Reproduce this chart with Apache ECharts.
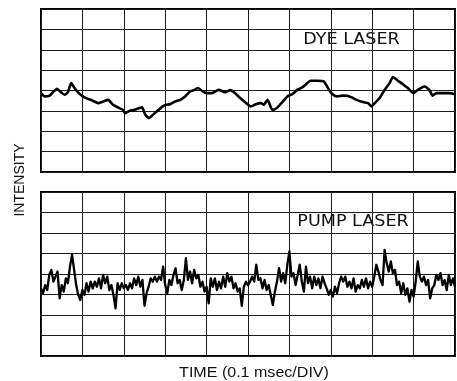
<!DOCTYPE html>
<html>
<head>
<meta charset="utf-8">
<script src="https://cdn.jsdelivr.net/npm/echarts@6/dist/echarts.min.js"></script>
<style>
  html, body { margin: 0; padding: 0; background: #fff; }
  #app { width: 457px; height: 381px; }
</style>
</head>
<body>
<div id="app"></div>
<script>
// time in divisions (0.1 msec/DIV), intensity in divisions
const dyeLaser = [
  [0, 3.87], [0.09, 3.71], [0.21, 3.75], [0.29, 3.92], [0.39, 4.08], [0.48, 3.92],
  [0.57, 3.79], [0.65, 3.92], [0.73, 4.36], [0.81, 4.12], [0.89, 3.92], [1.01, 3.71],
  [1.13, 3.59], [1.25, 3.5], [1.38, 3.38], [1.5, 3.46], [1.62, 3.54], [1.74, 3.3],
  [1.86, 3.17], [1.98, 3.05], [2.03, 2.89], [2.14, 3.0], [2.26, 3.05], [2.38, 3.14],
  [2.44, 3.17], [2.52, 2.81], [2.61, 2.65], [2.72, 2.84], [2.84, 3.05], [2.94, 3.22],
  [3.02, 3.3], [3.12, 3.33], [3.24, 3.46], [3.36, 3.54], [3.48, 3.71], [3.6, 3.95],
  [3.71, 4.03], [3.79, 4.12], [3.88, 4.0], [4.0, 3.87], [4.13, 3.87], [4.29, 4.03],
  [4.45, 3.92], [4.57, 4.02], [4.69, 3.87], [4.81, 3.63], [4.93, 3.43], [5.07, 3.22],
  [5.19, 3.33], [5.31, 3.38], [5.38, 3.3], [5.47, 3.54], [5.59, 3.05], [5.71, 3.17],
  [5.83, 3.43], [5.95, 3.71], [6.07, 3.82], [6.19, 4.03], [6.31, 4.15], [6.43, 4.36],
  [6.51, 4.48], [6.68, 4.48], [6.83, 4.44], [6.96, 4.03], [7.04, 3.82], [7.16, 3.71],
  [7.28, 3.75], [7.4, 3.74], [7.5, 3.66], [7.62, 3.54], [7.78, 3.43], [7.9, 3.38],
  [7.98, 3.22], [8.06, 3.38], [8.18, 3.63], [8.3, 4.03], [8.42, 4.36], [8.5, 4.66],
  [8.62, 4.48], [8.74, 4.31], [8.86, 4.12], [9.0, 3.87], [9.1, 4.03], [9.26, 4.2],
  [9.38, 4.03], [9.46, 3.75], [9.55, 3.87], [9.71, 3.87], [9.87, 3.87], [10, 3.82]
];

// pump laser sampled every 0.05 DIV
const pumpStep = 0.05;
const pumpLaser = [
  3.30, 3.06, 3.46, 3.22, 3.96, 4.20, 3.63, 3.87, 4.12, 2.81,
  3.46, 3.14, 3.79, 3.55, 4.36, 4.94, 4.20, 3.46, 2.98, 2.73,
  3.22, 2.98, 3.55, 3.14, 3.63, 3.30, 3.63, 3.38, 3.79, 3.30,
  3.96, 3.55, 3.87, 3.22, 3.46, 2.98, 2.32, 3.55, 3.22, 3.55,
  3.30, 3.46, 3.22, 3.55, 3.30, 3.79, 3.46, 3.87, 3.38, 3.71,
  2.45, 3.06, 3.38, 3.79, 3.63, 3.87, 3.63, 3.87, 3.71, 4.36,
  3.46, 3.06, 3.71, 3.46, 3.96, 4.28, 3.55, 3.71, 3.22, 3.71,
  4.77, 3.71, 4.12, 3.55, 4.20, 3.79, 3.96, 3.38, 3.63, 3.14,
  3.38, 2.57, 3.79, 3.38, 3.79, 3.22, 3.63, 3.30, 3.87, 3.38,
  4.04, 3.63, 3.87, 3.30, 3.55, 3.14, 3.30, 2.45, 3.38, 3.63,
  3.46, 3.63, 3.87, 3.63, 4.45, 3.71, 3.79, 3.30, 3.71, 3.22,
  3.46, 2.98, 2.49, 3.14, 3.63, 4.28, 3.63, 4.04, 3.55, 4.45,
  5.10, 3.87, 4.04, 3.46, 3.96, 4.45, 3.63, 3.14, 4.36, 3.55,
  3.87, 3.30, 3.87, 3.46, 3.79, 3.30, 3.87, 3.55, 3.30, 2.98,
  3.22, 2.90, 3.38, 3.06, 3.55, 3.87, 3.63, 3.87, 3.38, 3.63,
  3.30, 3.79, 3.14, 3.46, 3.30, 3.71, 3.38, 3.79, 3.30, 3.63,
  3.38, 3.87, 4.45, 4.12, 3.71, 3.46, 5.18, 4.53, 4.12, 4.61,
  4.04, 4.20, 3.46, 3.63, 3.06, 3.55, 2.98, 3.30, 2.65, 3.22,
  2.90, 3.63, 4.61, 3.87, 3.63, 3.87, 3.46, 3.71, 2.81, 3.30,
  3.46, 3.96, 3.71, 4.04, 3.46, 3.71, 3.22, 3.96, 3.46, 3.79,
  3.38
];

const panelLabels = ["DYE LASER", "PUMP LASER"];
const xTitle = "TIME (0.1 msec/DIV)";
const yTitle = "INTENSITY";

const app = document.getElementById("app");
const myChart = echarts.init(app);

const gridLine = { show: true, lineStyle: { color: "#1a1a1a", width: 1 } };

const makeX = (i) => ({
  gridIndex: i,
  type: "value",
  min: 0,
  max: 10,
  interval: 1,
  axisLine: { show: false },
  axisTick: { show: false },
  axisLabel: { show: false },
  splitLine: gridLine,
});

const makeY = (i) => ({
  gridIndex: i,
  type: "value",
  min: 0,
  max: 8,
  interval: 1,
  axisLine: { show: false },
  axisTick: { show: false },
  axisLabel: { show: false },
  splitLine: gridLine,
});

// white box over the grid with the panel name, letters stretched a bit like the original
const labelBox = (text, x, y, w, h) => ({
  type: "group",
  z: 100,
  children: [
    { type: "rect", shape: { x: x, y: y, width: w, height: h }, style: { fill: "#fff" } },
    {
      type: "text",
      x: x + w / 2,
      y: y + h / 2,
      scaleX: 1.17,
      style: {
        text: text,
        fill: "#111",
        font: "15px 'DejaVu Sans'",
        align: "center",
        verticalAlign: "middle",
      },
    },
  ],
});

myChart.setOption({
  animation: false,
  backgroundColor: "#fff",
  grid: [
    { left: 41, right: 2, top: 9, height: 163, show: true, borderColor: "#000", borderWidth: 2 },
    { left: 41, right: 2, top: 192, height: 164, show: true, borderColor: "#000", borderWidth: 2 },
  ],
  xAxis: [makeX(0), makeX(1)],
  yAxis: [makeY(0), makeY(1)],
  series: [
    {
      type: "line",
      xAxisIndex: 0,
      yAxisIndex: 0,
      data: dyeLaser,
      showSymbol: false,
      smooth: 0.2,
      lineStyle: { color: "#000", width: 2.6 },
      z: 5,
    },
    {
      type: "line",
      xAxisIndex: 1,
      yAxisIndex: 1,
      data: pumpLaser.map((v, i) => [i * pumpStep, v]),
      showSymbol: false,
      lineStyle: { color: "#000", width: 2.3, join: "round" },
      z: 5,
    },
  ],
  graphic: [
    labelBox(panelLabels[0], 291, 31, 121, 18),
    labelBox(panelLabels[1], 293, 213, 120, 18),
    {
      type: "text",
      x: 20,
      y: 180,
      rotation: Math.PI / 2,
      style: {
        text: yTitle,
        fill: "#111",
        font: "14px 'Liberation Sans'",
        align: "center",
        verticalAlign: "middle",
      },
    },
    {
      type: "text",
      x: 254,
      y: 373,
      scaleX: 1.07,
      style: {
        text: xTitle,
        fill: "#111",
        font: "15px 'Liberation Sans'",
        align: "center",
        verticalAlign: "middle",
      },
    },
  ],
});
</script>
</body>
</html>
